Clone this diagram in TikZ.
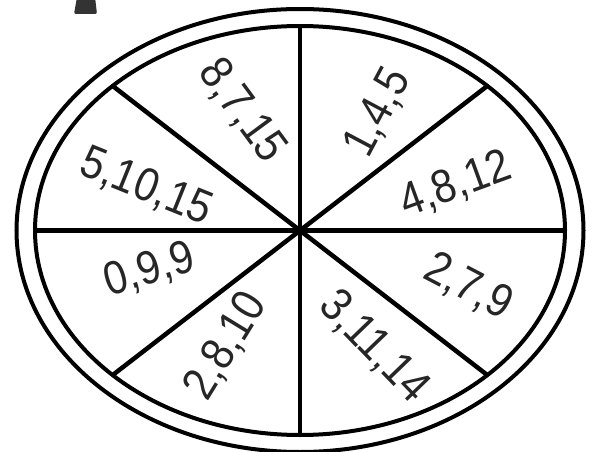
\documentclass[tikz,border=0pt]{standalone}
\usepackage{fontspec}
\setmainfont{Liberation Sans}
\newfontfamily\wheelfont[FakeStretch=0.88]{Liberation Sans}
\begin{document}
\begin{tikzpicture}[x=1pt,y=-1pt,
  ring/.style={line width=4pt},
  spoke/.style={line width=4.5pt},
  lab/.style={font=\wheelfont\fontsize{47}{47}\selectfont, inner sep=0pt, text=black!85}]
\useasboundingbox (0,0) rectangle (592,452);
\coordinate (c) at (300,230.5);
% double rim
\draw[ring] (c) ellipse [x radius=283.5, y radius=221.5];
\draw[ring] (c) ellipse [x radius=265, y radius=204.5];
% spokes
\foreach \a in {0,45,90,135}
  \draw[spoke,shift={(c)}] (\a:265 and 204.5) -- (\a+180:265 and 204.5);
% small mark at top left
\fill[black!80, rounded corners=2pt] (77,-3) -- (95,-3) -- (97,14) -- (74,14) -- cycle;
% labels
\node[lab,rotate=-53.6] (l1) at (242,111)   {8,7,15};
\node[lab,rotate=62]    (l2) at (378,113)   {1,4,5};
\node[lab,rotate=20]    (l3) at (456,185)   {4,8,12};
\node[lab,rotate=-22]   (l4) at (146,187)   {5,10,15};
\node[lab,rotate=17]    (l5) at (150,270)   {0,9,9};
\node[lab,rotate=58.5]  (l6) at (226,346)   {2,8,10};
\node[lab,rotate=-46]   (l7) at (374,347)   {3,11,14};
\node[lab,rotate=-27.6] (l8) at (468,287)   {2,7,9};
\end{tikzpicture}
\end{document}
